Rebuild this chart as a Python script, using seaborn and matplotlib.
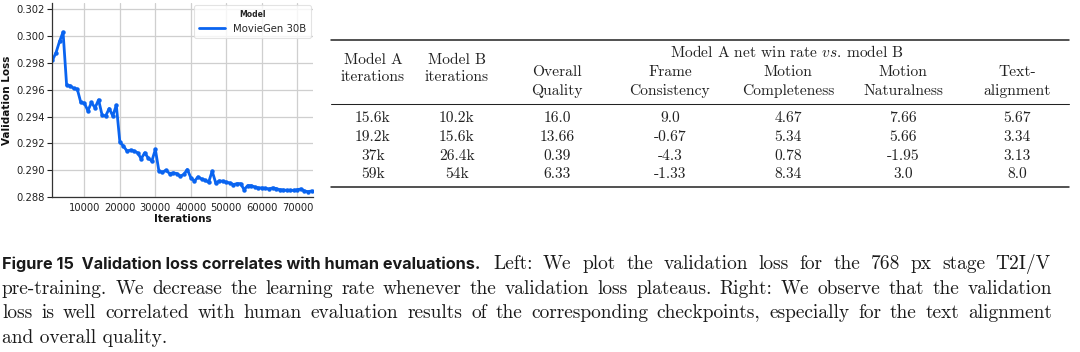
import numpy as np
import pandas as pd
import matplotlib
matplotlib.use("Agg")
import matplotlib.pyplot as plt
import seaborn as sns
from matplotlib.lines import Line2D
from matplotlib.ticker import FormatStrFormatter

# ---------------- data ----------------
iterations = [1000, 2000, 3000, 4000, 5000, 6000, 7000, 8000, 9000, 10000,
              11000, 12000, 13000, 14000, 15000, 16000, 17000, 18000, 19000, 20000,
              21000, 22000, 23000, 24000, 25000, 26000, 27000, 28000, 29000, 30000,
              31000, 32000, 33000, 34000, 35000, 36000, 37000, 38000, 39000, 40000,
              41000, 42000, 43000, 44000, 45000, 46000, 47000, 48000, 49000, 50000,
              51000, 52000, 53000, 54000, 55000, 56000, 57000, 58000, 59000, 60000,
              61000, 62000, 63000, 64000, 65000, 66000, 67000, 68000, 69000, 70000,
              71000, 72000, 73000, 74000]
val_loss = [0.2982, 0.29875, 0.2996, 0.3003, 0.29635, 0.2963, 0.2961, 0.29605, 0.29505, 0.2950,
            0.29443, 0.29505, 0.29465, 0.29525, 0.2941, 0.29405, 0.2946, 0.29405, 0.29485, 0.2921,
            0.2918, 0.29143, 0.2915, 0.29143, 0.2913, 0.29085, 0.2913, 0.2909, 0.29068, 0.29155,
            0.28993, 0.28985, 0.2900, 0.28975, 0.2898, 0.28975, 0.28955, 0.28968, 0.29005, 0.28943,
            0.28918, 0.2895, 0.28935, 0.28925, 0.2891, 0.28993, 0.28905, 0.2892, 0.28918, 0.2891,
            0.28905, 0.28893, 0.2890, 0.2890, 0.28855, 0.28885, 0.28885, 0.28875, 0.28868, 0.28868,
            0.28865, 0.2886, 0.28868, 0.28863, 0.28855, 0.28853, 0.2885, 0.2885, 0.2885, 0.28855,
            0.2886, 0.28845, 0.2884, 0.28845]
model_name = "MovieGen 30B"

y_ticks = [0.288, 0.290, 0.292, 0.294, 0.296, 0.298, 0.300, 0.302]
x_ticks = [10000, 20000, 30000, 40000, 50000, 60000, 70000]

table_group_header = r"Model A net win rate $\mathit{vs}$. model B"
table_col_top = ["Model A", "Model B", "Overall", "Frame", "Motion", "Motion", "Text-"]
table_col_bottom = ["iterations", "iterations", "Quality", "Consistency", "Completeness", "Naturalness", "alignment"]
model_a_iters = ["15.6k", "19.2k", "37k", "59k"]
model_b_iters = ["10.2k", "15.6k", "26.4k", "54k"]
overall_quality = ["16.0", "13.66", "0.39", "6.33"]
frame_consistency = ["9.0", "-0.67", "-4.3", "-1.33"]
motion_completeness = ["4.67", "5.34", "0.78", "8.34"]
motion_naturalness = ["7.66", "5.66", "-1.95", "3.0"]
text_alignment = ["5.67", "3.34", "3.13", "8.0"]

caption_title = "Figure 15  Validation loss correlates with human evaluations."
caption_line1 = "Left: We plot the validation loss for the 768 px stage T2I/V"
caption_line2 = "pre-training. We decrease the learning rate whenever the validation loss plateaus. Right: We observe that the validation"
caption_line3 = "loss is well correlated with human evaluation results of the corresponding checkpoints, especially for the text alignment"
caption_line4 = "and overall quality."

# ---------------- figure ----------------
W, H = 1080, 352
sns.set_theme(style="whitegrid")
plt.rcParams["font.family"] = ["DejaVu Sans"]
plt.rcParams["mathtext.fontset"] = "cm"

fig = plt.figure(figsize=(W / 100, H / 100), dpi=100)
fig.patch.set_facecolor("white")

def fx(x):
    return x / W

def fy(y):
    return 1 - y / H

ax = fig.add_axes([fx(51.7), fy(197), fx(313) - fx(51.7), fy(3) - fy(197)])

df = pd.DataFrame({"Iterations": iterations, "Validation Loss": val_loss,
                   "Model": [model_name] * len(iterations)})
line_color = "#0a64f0"
sns.lineplot(data=df, x="Iterations", y="Validation Loss", hue="Model",
             palette=[line_color], marker="o", markersize=3.2, markeredgewidth=0,
             linewidth=2.0, ax=ax)

ax.set_xlim(800, 74400)
ax.set_ylim(0.288, 0.30247)
ax.set_xticks(x_ticks)
ax.set_yticks(y_ticks)
ax.yaxis.set_major_formatter(FormatStrFormatter("%.3f"))
ax.tick_params(axis="x", labelsize=7.2, length=0, pad=4, colors="#222222")
ax.tick_params(axis="y", labelsize=7.2, length=3.5, width=0.8, pad=1.5, colors="#222222", left=True)
ax.set_xlabel("Iterations", fontsize=7.5, fontweight="bold", labelpad=1, color="#111111")
ax.set_ylabel("Validation Loss", fontsize=7.5, fontweight="bold", labelpad=3, color="#111111")
ax.grid(True, color="#cfcfcf", linewidth=0.9)
for s in ["top", "right"]:
    ax.spines[s].set_visible(False)
for s in ["left", "bottom"]:
    ax.spines[s].set_color("#333333")
    ax.spines[s].set_linewidth(0.9)

leg = ax.legend(title="Model", loc="upper right", fontsize=7.3, title_fontsize=5.5,
                frameon=True, borderpad=0.45, handlelength=2.6, borderaxespad=0.2,
                bbox_to_anchor=(1.0, 1.0))
leg.get_title().set_fontweight("bold")
leg.get_frame().set_edgecolor("#dddddd")
leg.get_frame().set_linewidth(0.8)
for h in leg.get_lines():
    h.set_marker("")
    h.set_linewidth(2.0)

# ---------------- table ----------------
tfont = dict(family="cmr10", fontsize=11.2, color="#222222")
col_x = [373, 457, 557, 670, 788, 903, 1017]
rule_x0, rule_x1 = 331, 1069

def hrule(y, lw):
    fig.add_artist(Line2D([fx(rule_x0), fx(rule_x1)], [fy(y), fy(y)],
                          transform=fig.transFigure, color="#222222", linewidth=lw))

hrule(39.5, 1.1)
hrule(104.3, 0.75)
hrule(186.7, 1.1)

fig.text(fx(787), fy(57), table_group_header, ha="center", va="baseline", **tfont)
for i in range(2):
    fig.text(fx(col_x[i]), fy(64.5), table_col_top[i], ha="center", va="baseline", **tfont)
    fig.text(fx(col_x[i]), fy(81), table_col_bottom[i], ha="center", va="baseline", **tfont)
for i in range(2, 7):
    fig.text(fx(col_x[i]), fy(76), table_col_top[i], ha="center", va="baseline", **tfont)
    fig.text(fx(col_x[i]), fy(95), table_col_bottom[i], ha="center", va="baseline", **tfont)

columns = [model_a_iters, model_b_iters, overall_quality, frame_consistency,
           motion_completeness, motion_naturalness, text_alignment]
row_base = [122.5, 141, 160, 178.5]
for ci, col in enumerate(columns):
    for ri, v in enumerate(col):
        fig.text(fx(col_x[ci]), fy(row_base[ri]), v, ha="center", va="baseline", **tfont)

# ---------------- caption ----------------
renderer = fig.canvas.get_renderer()
tb_font = dict(family="Inter", fontsize=11, fontweight="bold", color="#1a1a1a")

title_txt = fig.text(fx(2), fy(269), caption_title, ha="left", va="baseline", **tb_font)
tw = title_txt.get_window_extent(renderer).width
title_txt.set_fontsize(11 * 481.0 / tw)

# body size chosen so the (unjustified) last line spans ~166 px like the reference
last_txt = fig.text(fx(2), fy(343.3), caption_line4, ha="left", va="baseline",
                    family="cmr10", fontsize=12.5, color="#1a1a1a")
lw_ = last_txt.get_window_extent(renderer).width
body_size = 12.5 * 166.0 / lw_
last_txt.set_fontsize(body_size)
cfont = dict(family="cmr10", fontsize=body_size, color="#1a1a1a")

def justify(words, x0, x1, ybase, props):
    texts = [fig.text(0, 0, w, ha="left", va="baseline", **props) for w in words]
    widths = [t.get_window_extent(renderer).width for t in texts]
    gap = (x1 - x0 - sum(widths)) / max(len(words) - 1, 1)
    x = x0
    for t, w in zip(texts, widths):
        t.set_position((fx(x), fy(ybase)))
        x += w + gap

justify(caption_line1.split(" "), 493, 1051, 269, cfont)
justify(caption_line2.split(" "), 2, 1052, 294, cfont)
justify(caption_line3.split(" "), 2, 1052, 318.5, cfont)

fig.savefig("out.png", dpi=100, facecolor="white")
